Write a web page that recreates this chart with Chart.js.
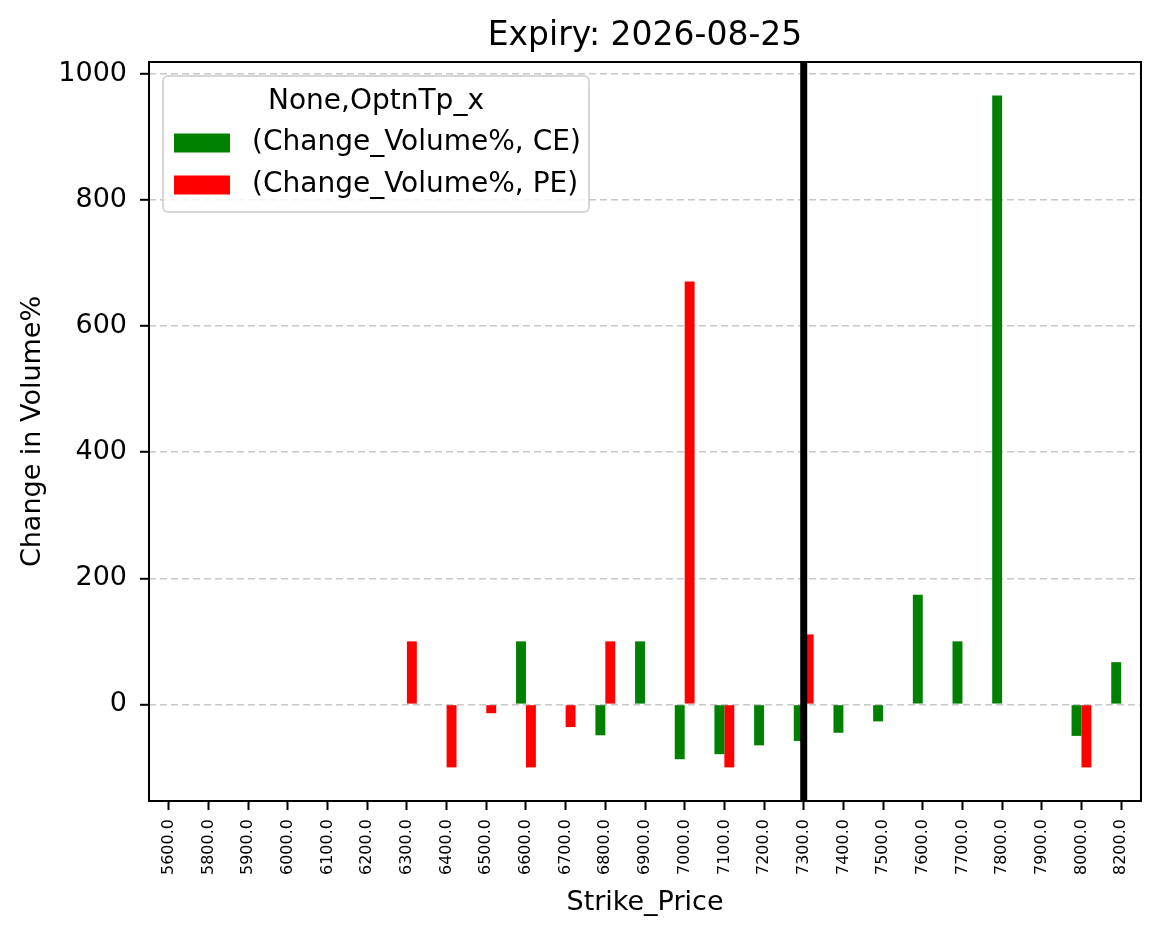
<!DOCTYPE html>
<html>
<head>
<meta charset="utf-8">
<script src="https://cdn.jsdelivr.net/npm/chart.js@4.4.0/dist/chart.umd.min.js"></script>
<style>
  html, body { margin: 0; padding: 0; background: #fff; }
  canvas { display: block; }
</style>
</head>
<body>
<canvas id="chart" width="1161" height="939"></canvas>
<script>
// Données
const strikes = ["5600.0", "5800.0", "5900.0", "6000.0", "6100.0", "6200.0", "6300.0", "6400.0", "6500.0",
  "6600.0", "6700.0", "6800.0", "6900.0", "7000.0", "7100.0", "7200.0", "7300.0", "7400.0", "7500.0",
  "7600.0", "7700.0", "7800.0", "7900.0", "8000.0", "8200.0"];
const ceChange = [null, null, null, null, null, null, null, null, null,
  100, null, -49, 100, -87, -79, -65, -58, -45, -27,
  174, 100, 966, null, -50, 67];
const peChange = [null, null, null, null, null, null, 100, -100, -14,
  -100, -36, 100, null, 671, -100, null, 111, null, null,
  null, null, null, null, -100, null];
const yTicks = [0, 200, 400, 600, 800, 1000];
const seriesLabels = ["(Change_Volume%, CE)", "(Change_Volume%, PE)"];
const seriesColors = ["#008000", "#ff0000"];
const legendTitle = "None,OptnTp_x";
const markerStrike = "7300.0";

const FONT = "'DejaVu Sans', sans-serif";

// Ligne verticale, cadre et légende dans la zone du graphique
const overlay = {
  id: "overlay",
  afterDatasetsDraw(chart) {
    const { ctx, chartArea: a, scales } = chart;
    const xp = scales.x.getPixelForValue(strikes.indexOf(markerStrike));
    ctx.save();
    ctx.strokeStyle = "#000";
    ctx.lineWidth = 7;
    ctx.beginPath();
    ctx.moveTo(xp, a.top);
    ctx.lineTo(xp, a.bottom);
    ctx.stroke();

    ctx.lineWidth = 2;
    ctx.strokeRect(a.left, a.top, a.right - a.left, a.bottom - a.top);

    // légende
    const lx = a.left + 14, ly = a.top + 14, lw = 426, lh = 136;
    ctx.beginPath();
    ctx.roundRect(lx, ly, lw, lh, 5);
    ctx.fillStyle = "rgba(255,255,255,0.8)";
    ctx.fill();
    ctx.lineWidth = 2;
    ctx.strokeStyle = "rgba(204,204,204,0.8)";
    ctx.stroke();

    ctx.fillStyle = "#000";
    ctx.font = "28px " + FONT;
    ctx.textBaseline = "middle";
    ctx.textAlign = "center";
    ctx.fillText(legendTitle, lx + lw / 2, ly + 26);
    ctx.textAlign = "left";
    seriesLabels.forEach((label, i) => {
      const cy = ly + 67 + i * 42;
      ctx.fillStyle = seriesColors[i];
      ctx.fillRect(lx + 11, cy - 9.5, 56, 19);
      ctx.fillStyle = "#000";
      ctx.fillText(label, lx + 89, cy);
    });
    ctx.restore();
  }
};

const ctx = document.getElementById("chart").getContext("2d");
const chart = new Chart(ctx, {
  type: "bar",
  data: {
    labels: strikes,
    datasets: [
      { label: seriesLabels[0], data: ceChange, backgroundColor: seriesColors[0] },
      { label: seriesLabels[1], data: peChange, backgroundColor: seriesColors[1] },
    ],
  },
  options: {
    responsive: false,
    devicePixelRatio: 1,
    animation: false,
    categoryPercentage: 0.5,
    barPercentage: 1.0,
    layout: { padding: { left: 0, right: 20, top: 0, bottom: 0 } },
    plugins: {
      legend: { display: false },
      tooltip: { enabled: false },
      title: {
        display: true,
        text: "Expiry: 2026-08-25",
        fullSize: false,
        color: "#000",
        font: { family: FONT, size: 33, weight: "normal" },
        padding: { top: 17, bottom: 5.4 },
      },
    },
    scales: {
      x: {
        offset: true,
        afterFit(scale) { scale.height = 138; },
        grid: {
          offset: false,
          drawOnChartArea: false,
          drawTicks: true,
          tickLength: 9,
          tickColor: "#000",
          tickWidth: 2,
        },
        border: { display: false },
        ticks: {
          autoSkip: false,
          minRotation: 90,
          maxRotation: 90,
          padding: 9,
          color: "#000",
          font: { family: FONT, size: 16 },
        },
        title: {
          display: true,
          text: "Strike_Price",
          color: "#000",
          font: { family: FONT, size: 27 },
          padding: { top: 0, bottom: 20 },
        },
      },
      y: {
        min: -153.3,
        max: 1019.3,
        afterFit(scale) { scale.width = 149; },
        afterBuildTicks(scale) { scale.ticks = yTicks.map(v => ({ value: v })); },
        grid: {
          color: "#c8c8c8",
          lineWidth: 1.6,
          drawTicks: true,
          tickLength: 9,
          tickColor: "#000",
          tickWidth: 2,
          tickBorderDash: [],
        },
        border: { display: false, dash: [7, 4] },
        ticks: {
          padding: 13,
          color: "#000",
          font: { family: FONT, size: 27 },
          callback: (v) => String(v),
        },
        title: {
          display: true,
          text: "Change in Volume%",
          color: "#000",
          font: { family: FONT, size: 27 },
          padding: { top: 17, bottom: 0 },
        },
      },
    },
  },
  plugins: [overlay],
});
</script>
</body>
</html>
